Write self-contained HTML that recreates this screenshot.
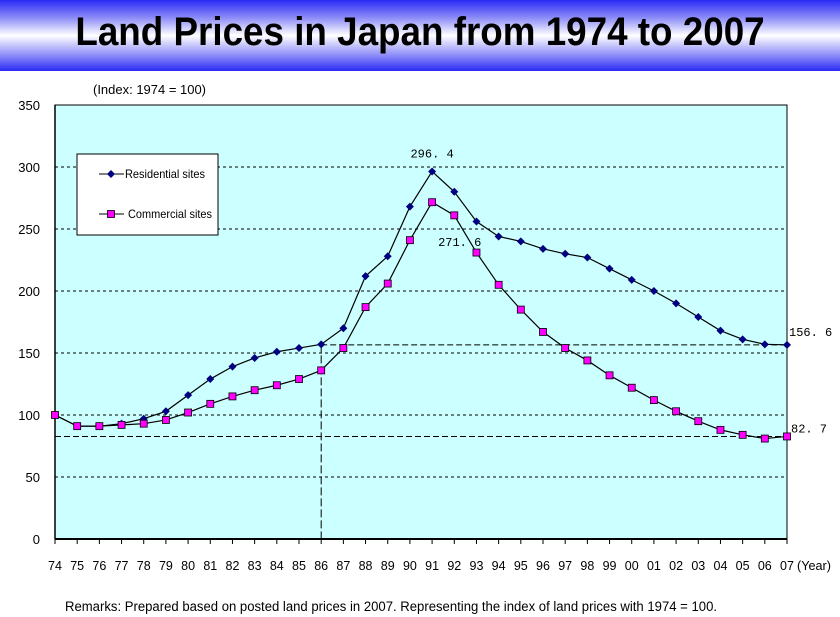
<!DOCTYPE html>
<html><head><meta charset="utf-8"><style>
body{margin:0;width:840px;height:617px;background:#fff;overflow:hidden;font-family:"Liberation Sans",sans-serif}
#hdr{position:absolute;left:0;top:0;width:840px;height:71px;background:linear-gradient(#2a2af5 0%,#8c8cf8 25%,#fff 50%,#8c8cf8 78%,#2a2af5 100%)}
#title{position:absolute;left:0;top:10px;width:840px;text-align:center;font-weight:bold;font-size:40px;color:#000;transform:scaleX(0.92);transform-origin:420px 0}
</style></head><body>
<div id="hdr"></div>
<div id="title">Land Prices in Japan from 1974 to 2007</div>
<svg id="c" width="840" height="617" style="position:absolute;left:0;top:0"></svg>
<script>
const years=["74","75","76","77","78","79","80","81","82","83","84","85","86","87","88","89","90","91","92","93","94","95","96","97","98","99","00","01","02","03","04","05","06","07"];
const residential=[100,91,91,93,97,103,116,129,139,146,151,154,157,170,212,228,268,296.4,280,256,244,240,234,230,227,218,209,200,190,179,168,161,157,156.6];
const commercial=[100,91,91,92,93,96,102,109,115,120,124,129,136,154,187,206,241,271.6,261,231,205,185,167,154,144,132,122,112,103,95,88,84,81,82.7];
const yTicks=[0,50,100,150,200,250,300,350];
const L=55,R=787,T=105,B=539;
const X=i=>L+(R-L)*i/(years.length-1);
const Y=v=>B-(B-T)*v/350;
const s=document.getElementById('c');const NS="http://www.w3.org/2000/svg";
function el(t,a,txt){const e=document.createElementNS(NS,t);for(const k in a)e.setAttribute(k,a[k]);if(txt!==undefined)e.textContent=txt;s.appendChild(e);return e;}
let e=el('rect',{x:L,y:T,width:R-L,height:B-T,fill:'#ccffff',stroke:'#000','stroke-width':1});

yTicks.forEach(v=>{
 if(v>0&&v<350){e=el('line',{x1:L,x2:R,y1:Y(v),y2:Y(v),stroke:'#000','stroke-dasharray':'3,3','stroke-width':1});
 }
 if(v==350){e=el('line',{x1:L,x2:R,y1:Y(v),y2:Y(v),stroke:'#000','stroke-dasharray':'3,2'});}
 e=el('text',{x:40,y:Y(v)+5,'text-anchor':'end','font-size':13},v);
 
});
const last=years.length-1;
e=el('line',{x1:X(12),x2:R,y1:Y(residential[last]),y2:Y(residential[last]),stroke:'#000','stroke-dasharray':'6,3'});

e=el('line',{x1:L,x2:R,y1:Y(commercial[last]),y2:Y(commercial[last]),stroke:'#000','stroke-dasharray':'6,3'});

e=el('line',{x1:X(12),x2:X(12),y1:Y(residential[12]),y2:B,stroke:'#000','stroke-dasharray':'8,3'});

el('line',{x1:L,x2:R,y1:B,y2:B,stroke:'#000','stroke-width':2});
el('line',{x1:L,x2:L,y1:T,y2:B,stroke:'#000','stroke-width':1.5});
years.forEach((y,i)=>{
 el('line',{x1:X(i),x2:X(i),y1:B,y2:B+5,stroke:'#000'});
 e=el('text',{x:X(i),y:570,'text-anchor':'middle','font-size':12.5},y);
 
});
e=el('text',{x:797,y:570,'font-size':12.5,textLength:34,lengthAdjust:'spacingAndGlyphs'},'(Year)');

e=el('text',{x:93,y:94,'font-size':13,textLength:113,lengthAdjust:'spacingAndGlyphs'},'(Index: 1974 = 100)');

function series(d,name,marker){
 e=el('polyline',{points:d.map((v,i)=>X(i)+','+Y(v)).join(' '),fill:'none',stroke:'#000','stroke-width':1.2});
 
 d.forEach((v,i)=>{
  if(marker=='d') e=el('polygon',{points:`${X(i)},${Y(v)-4} ${X(i)+4},${Y(v)} ${X(i)},${Y(v)+4} ${X(i)-4},${Y(v)}`,fill:'#000080'});
  else e=el('rect',{x:X(i)-3.5,y:Y(v)-3.5,width:7,height:7,fill:'#ff00ff',stroke:'#000','stroke-width':0.8});
  
 });
}
series(residential,'residential','d');
series(commercial,'commercial','s');
const lab=[[X(17),Y(296.4)-14,'middle','296. 4'],[X(17)+6,Y(271.6)+44,'start','271. 6'],[R+2,Y(156.6)-9,'start','156. 6'],[R+4,Y(82.7)-4,'start','82. 7']];
lab.forEach(a=>{e=el('text',{x:a[0],y:a[1],'text-anchor':a[2],'font-size':12,'font-family':'Liberation Mono, monospace'},a[3]);
 });
e=el('rect',{x:77,y:154,width:141,height:81,fill:'#fff',stroke:'#000'});

el('line',{x1:99,x2:124,y1:174,y2:174,stroke:'#000'});
el('polygon',{points:'111,170 115,174 111,178 107,174',fill:'#000080'});
e=el('text',{x:125,y:178,'font-size':12,textLength:80,lengthAdjust:'spacingAndGlyphs'},'Residential sites');

el('line',{x1:99,x2:124,y1:214,y2:214,stroke:'#000'});
el('rect',{x:107.5,y:210.5,width:7,height:7,fill:'#ff00ff',stroke:'#000','stroke-width':0.8});
e=el('text',{x:128,y:218,'font-size':12,textLength:84,lengthAdjust:'spacingAndGlyphs'},'Commercial sites');

e=el('text',{x:65,y:611,'font-size':13.5,textLength:652,lengthAdjust:'spacingAndGlyphs'},'Remarks: Prepared based on posted land prices in 2007. Representing the index of land prices with 1974 = 100.');

</script>
</body></html>
